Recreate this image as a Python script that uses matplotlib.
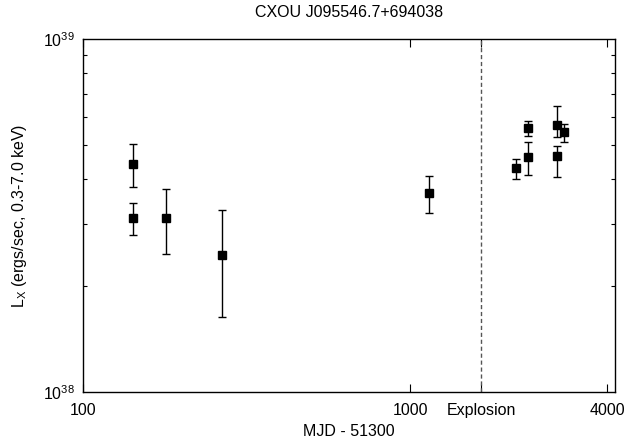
import numpy as np
import matplotlib
matplotlib.use("Agg")
import matplotlib.pyplot as plt
from matplotlib.ticker import NullLocator, NullFormatter, FixedLocator, LogLocator

plt.rcParams['font.family'] = ['Liberation Sans', 'DejaVu Sans']
plt.rcParams['mathtext.default'] = 'regular'

# MJD - 51300
days = [142, 142, 179, 265, 1142, 2102, 2293, 2293, 2811, 2811, 2951]
# luminosity in units of 1e38 erg/s
lum = [4.42, 3.11, 3.11, 2.44, 3.66, 4.31, 5.59, 4.63, 5.72, 4.66, 5.46]
lum_hi = [5.03, 3.43, 3.75, 3.27, 4.09, 4.58, 5.86, 5.11, 6.46, 4.97, 5.76]
lum_lo = [3.82, 2.79, 2.46, 1.63, 3.22, 4.02, 5.31, 4.11, 5.27, 4.07, 5.10]
explosion = 1645

days = np.array(days)
lum = np.array(lum) * 1e38
err_up = np.array(lum_hi) * 1e38 - lum
err_dn = lum - np.array(lum_lo) * 1e38

fig = plt.figure(figsize=(6.29, 4.43), dpi=100)
ax = fig.add_axes([0.132, 0.115, 0.845, 0.797])

ax.errorbar(days, lum, yerr=[err_dn, err_up], fmt='s', color='black',
            ms=5.5, ecolor='black', elinewidth=1.0, capsize=3, capthick=1.0)
ax.axvline(explosion, color='#555555', lw=1.0, ls=(0, (3, 2)))

ax.set_xscale('log')
ax.set_yscale('log')
ax.set_xlim(100, 4210)
ax.set_ylim(1e38, 1e39)

ax.xaxis.set_major_locator(FixedLocator([100, 1000, explosion, 4000]))
ax.set_xticklabels(['100', '1000', 'Explosion', '4000'])
ax.xaxis.set_minor_locator(NullLocator())
ax.yaxis.set_major_locator(FixedLocator([1e38, 1e39]))
ax.set_yticklabels([r'$10^{38}$', r'$10^{39}$'])
ax.yaxis.set_minor_locator(LogLocator(base=10, subs=np.arange(2, 10)))
ax.yaxis.set_minor_formatter(NullFormatter())

ax.tick_params(which='both', direction='in', top=True, right=True,
               labelsize=11.5, width=0.8, color='black')
ax.tick_params(axis='x', which='major', length=6, pad=8)
ax.tick_params(axis='y', which='major', length=0, pad=6)
ax.tick_params(axis='y', which='minor', length=3)
for s in ax.spines.values():
    s.set_linewidth(1.0)

ax.set_title('CXOU J095546.7+694038', fontsize=11.5, pad=16)
ax.set_xlabel('MJD - 51300', fontsize=11.5, labelpad=4)
ax.set_ylabel(r'$L_X$ (ergs/sec, 0.3-7.0 keV)', fontsize=11.5, labelpad=10)

fig.savefig('out.png', dpi=100)
